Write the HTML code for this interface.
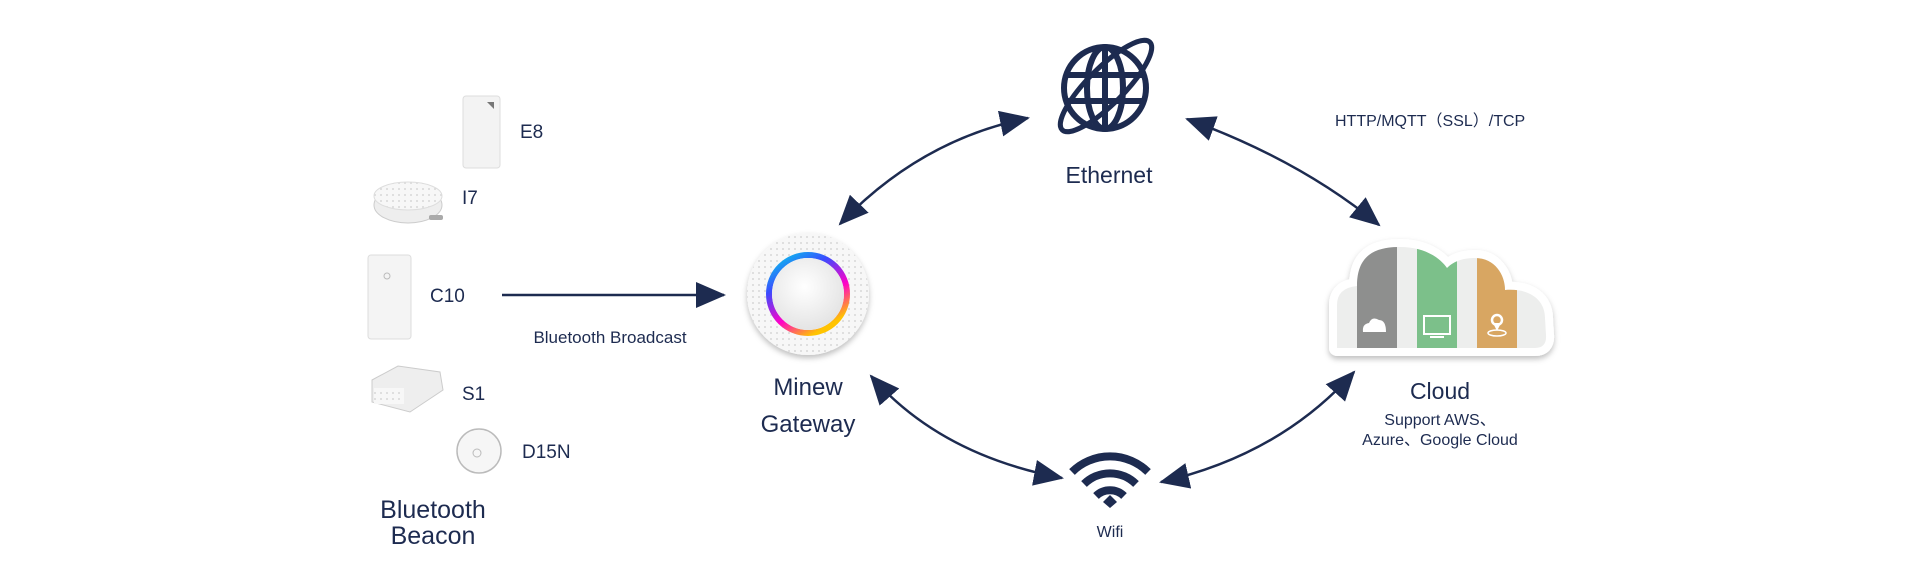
<!DOCTYPE html>
<html><head><meta charset="utf-8"><style>
html,body{margin:0;padding:0;background:#fff}
svg{display:block}
text{font-family:"Liberation Sans","Noto Sans CJK SC",sans-serif;fill:#1d2b50}
</style></head><body>
<svg width="1920" height="587" viewBox="0 0 1920 587" xmlns="http://www.w3.org/2000/svg">
<defs>
<marker id="a" viewBox="0 0 30 26" refX="28" refY="13" markerWidth="30" markerHeight="26" markerUnits="userSpaceOnUse" orient="auto-start-reverse">
<path d="M0,0 L30,13 L0,26 Z" fill="#1d2b50"/>
</marker>
<pattern id="dots" width="6" height="6" patternUnits="userSpaceOnUse">
<rect width="6" height="6" fill="#f7f7f7"/><circle cx="3" cy="3" r="1" fill="#d8d8d8"/>
</pattern>
<radialGradient id="btn" cx="45%" cy="40%" r="60%"><stop offset="0" stop-color="#fff"/><stop offset="1" stop-color="#e4e4e4"/></radialGradient>
<linearGradient id="ring" x1="0" y1="0" x2="0.6" y2="1"><stop offset="0" stop-color="#00d8e8"/><stop offset="0.35" stop-color="#3a4cff"/><stop offset="0.7" stop-color="#ff00c8"/><stop offset="1" stop-color="#ffc400"/></linearGradient>
<filter id="sh" x="-10%" y="-10%" width="120%" height="130%"><feDropShadow dx="0" dy="3" stdDeviation="3" flood-color="#000" flood-opacity="0.25"/></filter>
<clipPath id="cc"><path id="cp" d="M1337,348 L1337,305 Q1337,288 1357,286 C1357,255 1375,247 1400,247 C1425,247 1440,258 1447,268 C1455,260 1465,258 1475,258 C1495,258 1505,275 1505,290 C1530,288 1545,300 1545,318 L1546,335 Q1547,348 1535,348 Z"/></clipPath>
</defs>

<!-- devices -->
<rect x="463" y="96" width="37" height="72" rx="3" fill="#f3f3f3" stroke="#ddd"/>
<path d="M487,102 L494,102 L494,109 Z" fill="#777"/>
<ellipse cx="408" cy="205" rx="34" ry="18" fill="#eee" stroke="#ccc"/>
<ellipse cx="408" cy="196" rx="34" ry="14" fill="url(#dots)" stroke="#ddd"/>
<rect x="429" y="215" width="14" height="5" rx="2" fill="#aaa"/>
<rect x="368" y="255" width="43" height="84" rx="3" fill="#f4f4f4" stroke="#ddd"/>
<circle cx="387" cy="276" r="3" fill="none" stroke="#bbb"/>
<path d="M372,380 L398,366 L440,372 L443,390 L410,412 L372,402 Z" fill="#eee" stroke="#ccc"/>
<rect x="374" y="388" width="30" height="16" fill="url(#dots)"/>
<circle cx="479" cy="451" r="22" fill="#f6f6f6" stroke="#bbb" stroke-width="1.5"/>
<circle cx="477" cy="453" r="4" fill="none" stroke="#bbb"/>

<text x="520" y="138" font-size="19">E8</text>
<text x="462" y="204" font-size="19">I7</text>
<text x="430" y="302" font-size="19">C10</text>
<text x="462" y="400" font-size="19">S1</text>
<text x="522" y="458" font-size="19">D15N</text>
<text x="433" y="518" font-size="25" text-anchor="middle">Bluetooth</text>
<text x="433" y="544" font-size="25" text-anchor="middle">Beacon</text>

<!-- broadcast arrow -->
<line x1="502" y1="295" x2="724" y2="295" stroke="#1d2b50" stroke-width="2.5" marker-end="url(#a)"/>
<text x="610" y="343" font-size="17" text-anchor="middle">Bluetooth Broadcast</text>

<!-- gateway -->
<circle cx="808" cy="294" r="61" fill="url(#dots)" filter="url(#sh)"/>
<circle cx="808" cy="294" r="39" fill="none" stroke="url(#ring)" stroke-width="6"/>
<circle cx="808" cy="294" r="36" fill="url(#btn)"/>
<text x="808" y="395" font-size="24" text-anchor="middle">Minew</text>
<text x="808" y="432" font-size="24" text-anchor="middle">Gateway</text>

<!-- globe -->
<g fill="none" stroke="#1d2b50" stroke-width="6">
<circle cx="1105" cy="88" r="41"/>
<ellipse cx="1105" cy="88" rx="18" ry="41"/>
<line x1="1105" y1="47" x2="1105" y2="129"/>
<line x1="1066" y1="75" x2="1144" y2="75"/>
<line x1="1066" y1="101" x2="1144" y2="101"/>
<ellipse cx="1106" cy="86" rx="62" ry="18" transform="rotate(-45 1106 86)" stroke-width="5"/>
</g>
<text x="1109" y="183" font-size="23" text-anchor="middle">Ethernet</text>
<text x="1335" y="126" font-size="16">HTTP/MQTT（SSL）/TCP</text>

<!-- cloud -->
<use href="#cp" fill="#fff" stroke="#fff" stroke-width="16" stroke-linejoin="round" filter="url(#sh)"/>
<g clip-path="url(#cc)">
<rect x="1330" y="240" width="230" height="110" fill="#edeeed"/>
<rect x="1357" y="240" width="40" height="110" fill="#8e8f8e"/>
<rect x="1417" y="240" width="40" height="110" fill="#7cc08a"/>
<rect x="1477" y="240" width="40" height="110" fill="#d8a662"/>
</g>
<path d="M1363,332 Q1362,324 1369,323 Q1372,316 1379,320 Q1386,320 1386,332 Z" fill="#fff"/>
<rect x="1424" y="316" width="26" height="18" fill="none" stroke="#fff" stroke-width="2"/>
<polyline points="1428,322 1433,329 1438,324 1446,320" fill="none" stroke="#7cc08a" stroke-width="1.5"/>
<line x1="1430" y1="337" x2="1444" y2="337" stroke="#fff" stroke-width="2"/>
<circle cx="1497" cy="320" r="5" fill="none" stroke="#fff" stroke-width="2.5"/>
<path d="M1493,323 L1497,331 L1501,323" fill="#fff"/>
<ellipse cx="1497" cy="333" rx="9" ry="3" fill="none" stroke="#fff" stroke-width="1.5"/>
<text x="1440" y="399" font-size="23" text-anchor="middle">Cloud</text>
<text x="1440" y="425" font-size="16" text-anchor="middle">Support AWS、</text>
<text x="1440" y="445" font-size="16" text-anchor="middle">Azure、Google Cloud</text>

<!-- wifi -->
<g fill="none" stroke="#1d2b50" stroke-width="8" stroke-linecap="butt">
<path d="M1072,472 A54,54 0 0 1 1148,472"/>
<path d="M1084,484 A37,37 0 0 1 1136,484"/>
<path d="M1096,496 A20,20 0 0 1 1124,496"/>
</g>
<path d="M1103,502 L1110,495 L1117,502 L1110,508 Z" fill="#1d2b50"/>
<text x="1110" y="537" font-size="16" text-anchor="middle">Wifi</text>

<!-- curved double arrows -->
<g fill="none" stroke="#1d2b50" stroke-width="2.5">
<path d="M840,224 Q920,140 1028,118" marker-start="url(#a)" marker-end="url(#a)"/>
<path d="M1187,119 Q1300,160 1379,225" marker-start="url(#a)" marker-end="url(#a)"/>
<path d="M871,376 Q940,455 1062,478" marker-start="url(#a)" marker-end="url(#a)"/>
<path d="M1354,372 Q1280,455 1161,482" marker-start="url(#a)" marker-end="url(#a)"/>
</g>
</svg>
</body></html>
